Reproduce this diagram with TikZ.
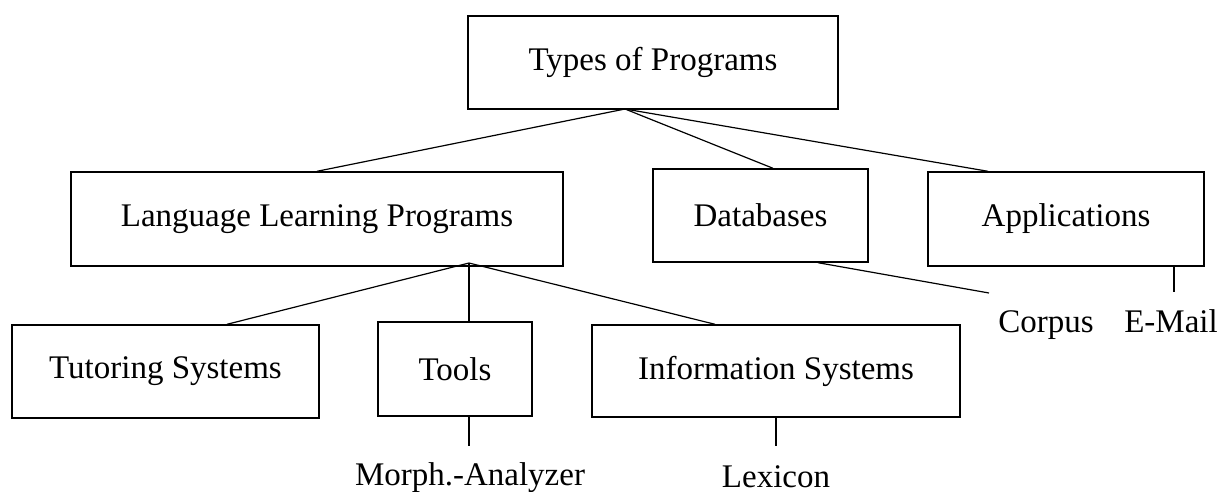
\documentclass[tikz,border=0pt]{standalone}
\usepackage{fontspec}
\setmainfont{Liberation Serif}

\begin{document}
\begin{tikzpicture}[x=0.5pt, y=-0.5pt,
    box/.style = {rectangle, draw, line width=0.7pt, inner sep=0pt},
    link/.style = {line width=0.6pt},
    font=\fontsize{16.5pt}{20pt}\selectfont]
  \useasboundingbox (0, 0) rectangle (1225, 492);

  % Boxes.
  \node at (653, 62.5) [box, minimum width=185pt, minimum height=46.5pt, name=Types] {Types of Programs};
  \node at (317, 219) [box, minimum width=246pt, minimum height=47pt, name=LanguageLearning] {Language Learning Programs};
  \node at (760.5, 215.5) [box, minimum width=107.5pt, minimum height=46.5pt, name=Databases] {Databases};
  \node at (1066, 219) [box, minimum width=138pt, minimum height=47pt, name=Applications] {Applications};
  \node at (165.5, 371.5) [box, minimum width=153.5pt, minimum height=46.5pt, name=Tutoring] {Tutoring Systems};
  \node at (455, 369) [box, minimum width=77pt, minimum height=47pt, name=Tools] {Tools};
  \node at (776, 371) [box, minimum width=184pt, minimum height=46pt, name=Information] {Information Systems};

  % Leaves.
  \node at (470, 485) [anchor=base, name=Morph] {Morph.-Analyzer};
  \node at (776, 487) [anchor=base, name=Lexicon] {Lexicon};
  \node at (1046, 332) [anchor=base, name=Corpus] {Corpus};
  \node at (1171, 332) [anchor=base, name=EMail] {E-Mail};

  % Forks.
  \coordinate (TypesFork) at (625, 109);
  \coordinate (LearningFork) at (469, 263);
  \coordinate (CorpusEnd) at (989, 293);
  \coordinate (MailEnd) at (1174, 292);
  \coordinate (MorphEnd) at (469, 446);
  \coordinate (LexiconEnd) at (776, 446);

  % First level.
  \draw [link] (TypesFork) -- (LanguageLearning.north);
  \draw [link] (TypesFork) -- (Databases.north -| 773, 0);
  \draw [link] (TypesFork) -- (Applications.north -| 988, 0);

  % Second level.
  \draw [link] (LearningFork) -- (Tutoring.north -| 227, 0);
  \draw [link] (LearningFork) -- (Tools.north -| LearningFork);
  \draw [link] (LearningFork) -- (Information.north -| 715, 0);

  % Examples.
  \draw [link] (Databases.south -| 818, 0) -- (CorpusEnd);
  \draw [link] (Applications.south -| MailEnd) -- (MailEnd);
  \draw [link] (Tools.south -| MorphEnd) -- (MorphEnd);
  \draw [link] (Information.south -| LexiconEnd) -- (LexiconEnd);
\end{tikzpicture}
\end{document}
